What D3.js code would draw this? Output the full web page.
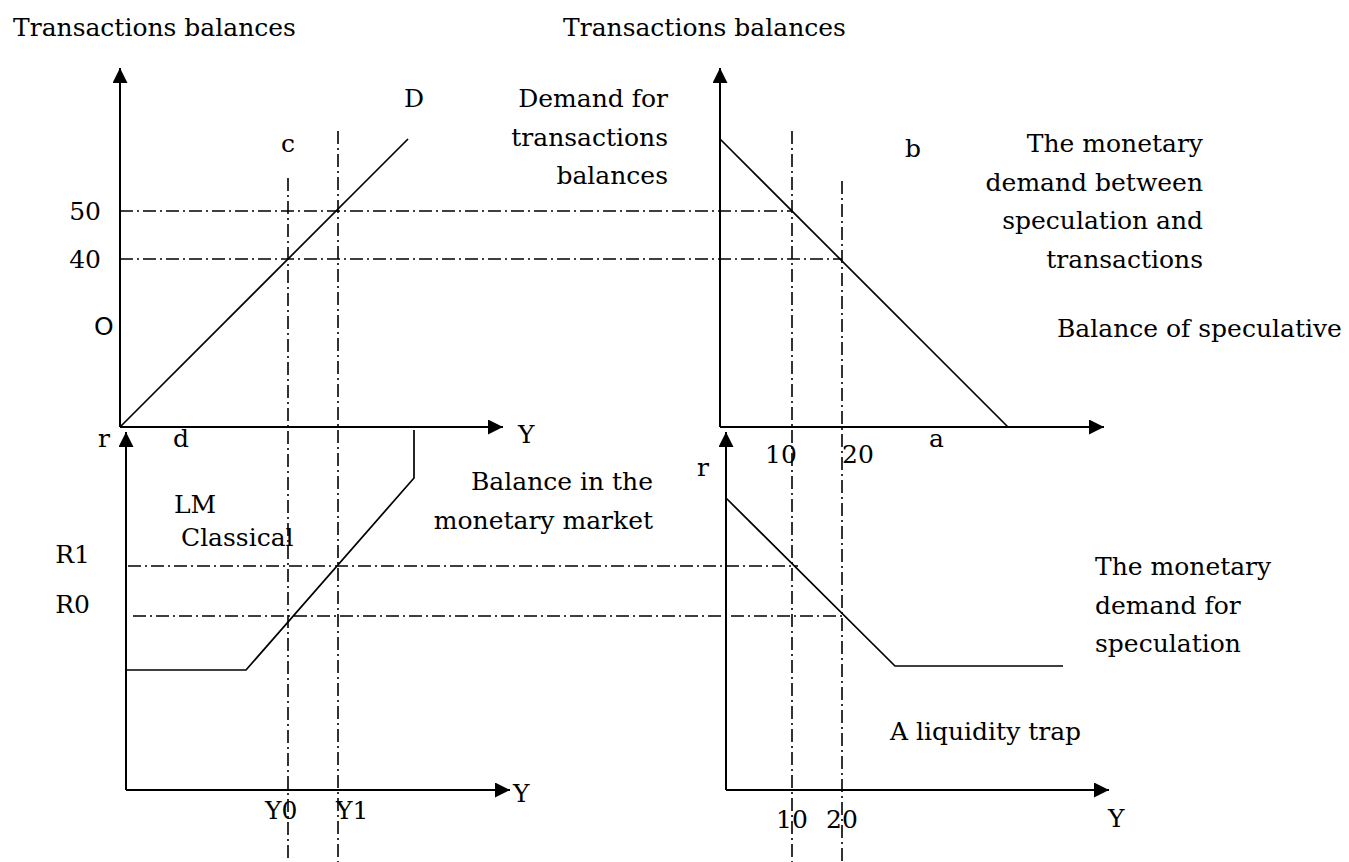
<!DOCTYPE html>
<html>
<head>
<meta charset="utf-8">
<script src="https://cdn.jsdelivr.net/npm/d3@7"></script>
<style>
body{margin:0;background:#fff;}
text{font-family:"DejaVu Serif",serif;font-size:25px;fill:#000;}
</style>
</head>
<body>
<div id="chart"></div>
<script>
// levels (panel units 0..100)
var incomeLevels = [{name:"Y0", v:42, top:62.25}, {name:"Y1", v:54.5, top:74}];
var transLevels = [{name:"50", v:54}, {name:"40", v:42}];
var specLevels = [{name:"10", v:18, top:74}, {name:"20", v:30.5, top:61.5}];
var rateLevels = [{name:"R1", v:56, from:2, to:19.5}, {name:"R0", v:43.5, from:3.25, to:30.5}];

// curves
var demandLine = [[0,0],[72,72]];                 // D : transactions balances vs Y
var moneyLine = [[0,72],[72,0]];                  // speculation + transactions
var lmCurve = [[1.5,30],[31.5,30],[73.5,78],[73.5,90]];   // LM classical
var specCurve = [[1.5,73],[43.75,31],[85.75,31]];        // speculative demand, liquidity trap

var W = 1349, H = 862;
var svg = d3.select("#chart").append("svg")
  .attr("width", W).attr("height", H);

var xInc = d3.scaleLinear().domain([0,100]).range([120,520]);
var xSpec = d3.scaleLinear().domain([0,100]).range([720,1120]);
var yTop = d3.scaleLinear().domain([0,100]).range([427,27]);
var yBot = d3.scaleLinear().domain([0,100]).range([790,390]);

svg.append("defs").append("marker")
  .attr("id","arrow")
  .attr("viewBox","0 0 10 10")
  .attr("refX",10).attr("refY",5)
  .attr("markerWidth",7.5).attr("markerHeight",7.5)
  .attr("markerUnits","strokeWidth")
  .attr("orient","auto")
  .append("path").attr("d","M0,0L10,5L0,10Z").attr("fill","#000");

var dash = "13,4,2,4";

// guide lines (dash dot)
var guides = svg.append("g").attr("fill","none").attr("stroke","#000")
  .attr("stroke-width",1.6).attr("stroke-dasharray",dash);

transLevels.forEach(function(d,i){
  guides.append("line")
    .attr("x1",xInc(0)).attr("x2",xSpec(specLevels[i].v))
    .attr("y1",yTop(d.v)).attr("y2",yTop(d.v));
});
rateLevels.forEach(function(d){
  guides.append("line")
    .attr("x1",xInc(d.from)).attr("x2",xSpec(d.to))
    .attr("y1",yBot(d.v)).attr("y2",yBot(d.v));
});
incomeLevels.forEach(function(d){
  guides.append("line")
    .attr("x1",xInc(d.v)).attr("x2",xInc(d.v))
    .attr("y1",yTop(d.top)).attr("y2",yBot(-18));
});
specLevels.forEach(function(d){
  guides.append("line")
    .attr("x1",xSpec(d.v)).attr("x2",xSpec(d.v))
    .attr("y1",yTop(d.top)).attr("y2",yBot(-18));
});

// axes with arrow heads
function axisPair(xs, ys, x0, xEnd, yEnd){
  var g = svg.append("g").attr("stroke","#000").attr("stroke-width",2).attr("fill","none");
  g.append("path").attr("d","M"+xs(x0)+","+ys(0)+"V"+ys(yEnd)).attr("marker-end","url(#arrow)");
  g.append("path").attr("d","M"+xs(x0)+","+ys(0)+"H"+xs(xEnd)).attr("marker-end","url(#arrow)");
}
axisPair(xInc, yTop, 0, 95.75, 89.75);
axisPair(xSpec, yTop, 0, 96, 89.75);
axisPair(xInc, yBot, 1.5, 97.5, 89.5);
axisPair(xSpec, yBot, 1.5, 97.25, 89.5);

// curves
function drawCurve(data, xs, ys){
  svg.append("path")
    .datum(data)
    .attr("fill","none").attr("stroke","#000").attr("stroke-width",1.7)
    .attr("d", d3.line().x(function(d){return xs(d[0]);}).y(function(d){return ys(d[1]);}));
}
drawCurve(demandLine, xInc, yTop);
drawCurve(moneyLine, xSpec, yTop);
drawCurve(lmCurve, xInc, yBot);
drawCurve(specCurve, xSpec, yBot);

// text
function label(txt, x, y, anchor){
  return svg.append("text").attr("x",x).attr("y",y)
    .attr("text-anchor",anchor||"start").text(txt);
}
function block(lines, x, y, anchor){
  lines.forEach(function(t,i){ label(t, x, y+i*38.5, anchor); });
}

label("Transactions balances", 13, 36);
label("Transactions balances", 563, 36);
label("D", 404, 107);
label("c", xInc(42)-7, 152);
transLevels.forEach(function(d){ label(d.name, 101, yTop(d.v)+9, "end"); });
label("O", 94, 335).style("font-family","'DejaVu Sans',sans-serif").style("font-size","25px");
label("r", 98, 447);
label("d", 173, 447);
label("Y", 518, 443);
block(["Demand for","transactions","balances"], 668, 107, "end");
label("b", 905, 157);
block(["The monetary","demand between","speculation and","transactions"], 1203, 152, "end");
label("Balance of speculative", 1057, 337);
label("a", 929, 447);
specLevels.forEach(function(d){ label(d.name, d.name=="20" ? xSpec(d.v) : xSpec(d.v)-27, 463); });
label("r", 697, 476);
block(["Balance in the","monetary market"], 653, 490, "end");
label("LM", 174, 513);
label("Classical", 181, 546);
rateLevels.forEach(function(d){ label(d.name, 90, yBot(d.v)-3, "end"); });
incomeLevels.forEach(function(d){ label(d.name, d.name=="Y0" ? xInc(d.v)-23 : xInc(d.v)-2, 819); });
label("Y", 513, 802);
block(["The monetary","demand for","speculation"], 1095, 575);
label("A liquidity trap", 890, 740);
specLevels.forEach(function(d){ label(d.name, xSpec(d.v), 828, "middle"); });
label("Y", 1108, 827);
</script>
</body>
</html>
